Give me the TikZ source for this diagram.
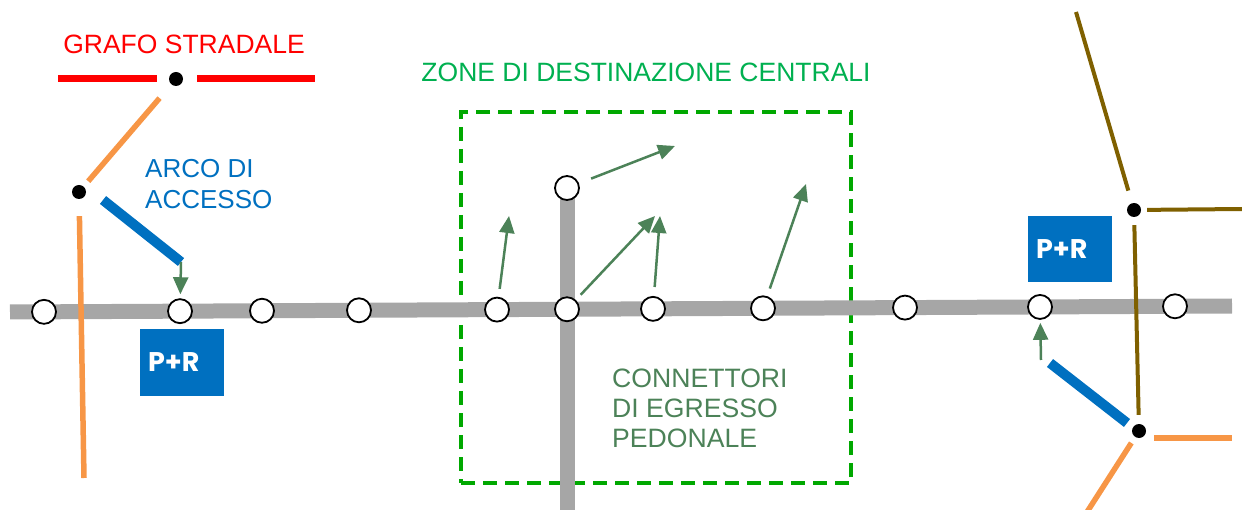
\documentclass[tikz,border=0pt]{standalone}
\usepackage{fontspec}
\setmainfont{Liberation Sans}
\newfontfamily\prfont{Poppins}
\usetikzlibrary{arrows.meta, positioning, calc}

\definecolor{roadred}{RGB}{255, 0, 0}
\definecolor{accorange}{RGB}{247, 150, 70}
\definecolor{accblue}{RGB}{0, 112, 192}
\definecolor{zonegreen}{RGB}{0, 168, 0}
\definecolor{zonetext}{RGB}{0, 176, 80}
\definecolor{egrgreen}{RGB}{76, 130, 88}
\definecolor{roadbrown}{RGB}{127, 96, 0}
\definecolor{linegray}{RGB}{166, 166, 166}

\tikzset{
  station/.style={circle, draw=black, line width=1.8pt, fill=white, minimum size=24pt, inner sep=0pt},
  junction/.style={circle, fill=black, minimum size=14pt, inner sep=0pt},
  transit/.style={linegray, line width=15pt},
  redroad/.style={roadred, line width=7pt},
  orangeroad/.style={accorange, line width=5.5pt},
  brownroad/.style={roadbrown, line width=4pt},
  access/.style={accblue, line width=10pt},
  egress/.style={egrgreen, line width=2.5pt, -{Triangle[length=17pt, width=15pt]}},
  zone/.style={draw=zonegreen, line width=4.5pt, dash pattern=on 14pt off 8pt},
  prbox/.style={fill=accblue, text=white, font=\prfont\bfseries\fontsize{27}{27}\selectfont,
    text width=68pt, inner xsep=8pt, inner ysep=0pt, minimum height=66pt, align=left},
  lbl/.style={inner sep=0pt, align=left},
}

\begin{document}
\begin{tikzpicture}[x=1pt, y=-1pt]
  \useasboundingbox (0, 0) rectangle (1242, 510);

  % central zone
  \node[zone, minimum width=390pt, minimum height=371pt] (zone) at (656, 297.5) {};

  % transit line and branch
  \coordinate (w) at (10, 312);
  \coordinate (e) at (1232, 306);
  \coordinate (brtop) at (567, 188);
  \coordinate (brbot) at (567, 510);
  \draw[transit] (w) -- (e);
  \draw[transit] (brtop) -- (brbot);

  % stations
  \foreach \x [count=\i] in {44, 180, 262, 359, 497, 567, 653, 763, 905, 1040, 1175}
    \node[station] (s\i) at (\x, {312-6*(\x-10)/1222}) {};
  \node[station] (st) at (brtop) {};

  % road graph
  \node[junction] (dA) at (176, 79) {};
  \node[junction] (dB) at (79, 192) {};
  \node[junction] (dC) at (1134, 210) {};
  \node[junction] (dD) at (1139, 431) {};
  \coordinate (r1) at (58, 79);
  \coordinate (r2) at (315, 79);
  \coordinate (o1) at (84, 478);
  \coordinate (o2) at (1087, 512);
  \coordinate (o3) at (1232, 438);
  \coordinate (b1) at (1076, 12);
  \coordinate (b2) at (1242, 209);

  \draw[redroad, shorten >=12pt] (r1) -- (dA);
  \draw[redroad, shorten <=14pt] (dA) -- (r2);
  \draw[orangeroad, shorten <=18pt, shorten >=7pt] (dA) -- (dB);
  \draw[orangeroad, shorten <=17pt] (dB) -- (o1);
  \draw[brownroad, shorten >=13pt] (b1) -- (dC);
  \draw[brownroad, shorten <=6pt] (dC) -- (b2);
  \draw[brownroad, shorten <=8pt, shorten >=9pt] (dC) -- (dD);
  \draw[orangeroad, shorten <=7pt] (dD) -- (o2);
  \draw[orangeroad] ([shift={(8pt,-7pt)}]dD.east) -- (o3);

  % access links and P+R
  \coordinate (a1s) at (103, 200);
  \coordinate (a1e) at (181, 262);
  \coordinate (a2s) at (1050, 363);
  \coordinate (a2e) at (1127, 423);
  \coordinate (g2) at (1041, 360);
  \draw[access] (a1s) -- (a1e);
  \draw[access] (a2s) -- (a2e);
  \draw[egress, shorten >=4pt] (a1e) -- (s2);
  \draw[egress, shorten >=3pt] (g2) -- (s10);
  \node[prbox] (pr1) at (182, 362.5) {P+R};
  \node[prbox] (pr2) at (1070, 249) {P+R};

  % pedestrian egress
  \coordinate (e1) at (509, 216);
  \coordinate (e2) at (675, 146);
  \coordinate (e3) at (655, 216);
  \coordinate (e4) at (660, 216);
  \coordinate (e5) at (806, 184);
  \draw[egress, shorten <=8pt] (s5) -- (e1);
  \draw[egress, shorten <=13pt] (st) -- (e2);
  \draw[egress, shorten <=7pt] (s6) -- (e3);
  \draw[egress, shorten <=9pt] (s7) -- (e4);
  \draw[egress, shorten <=8pt] (s8) -- (e5);

  % labels
  \node[lbl, text=roadred, font=\fontsize{26.5}{30}\selectfont, anchor=north] (grafo) at (184, 35) {GRAFO STRADALE};
  \node[lbl, text=zonetext, font=\fontsize{26.5}{30}\selectfont, anchor=north] (zonelbl) at (646, 63) {ZONE DI DESTINAZIONE CENTRALI};
  \node[lbl, text=accblue, font=\fontsize{26}{31}\selectfont, anchor=north west] (arco) at (145, 159) {ARCO DI\\ACCESSO};
  \node[lbl, text=egrgreen, font=\fontsize{26.6}{30}\selectfont, anchor=north west] (conn) at (612, 369) {CONNETTORI\\DI EGRESSO\\PEDONALE};
\end{tikzpicture}
\end{document}
